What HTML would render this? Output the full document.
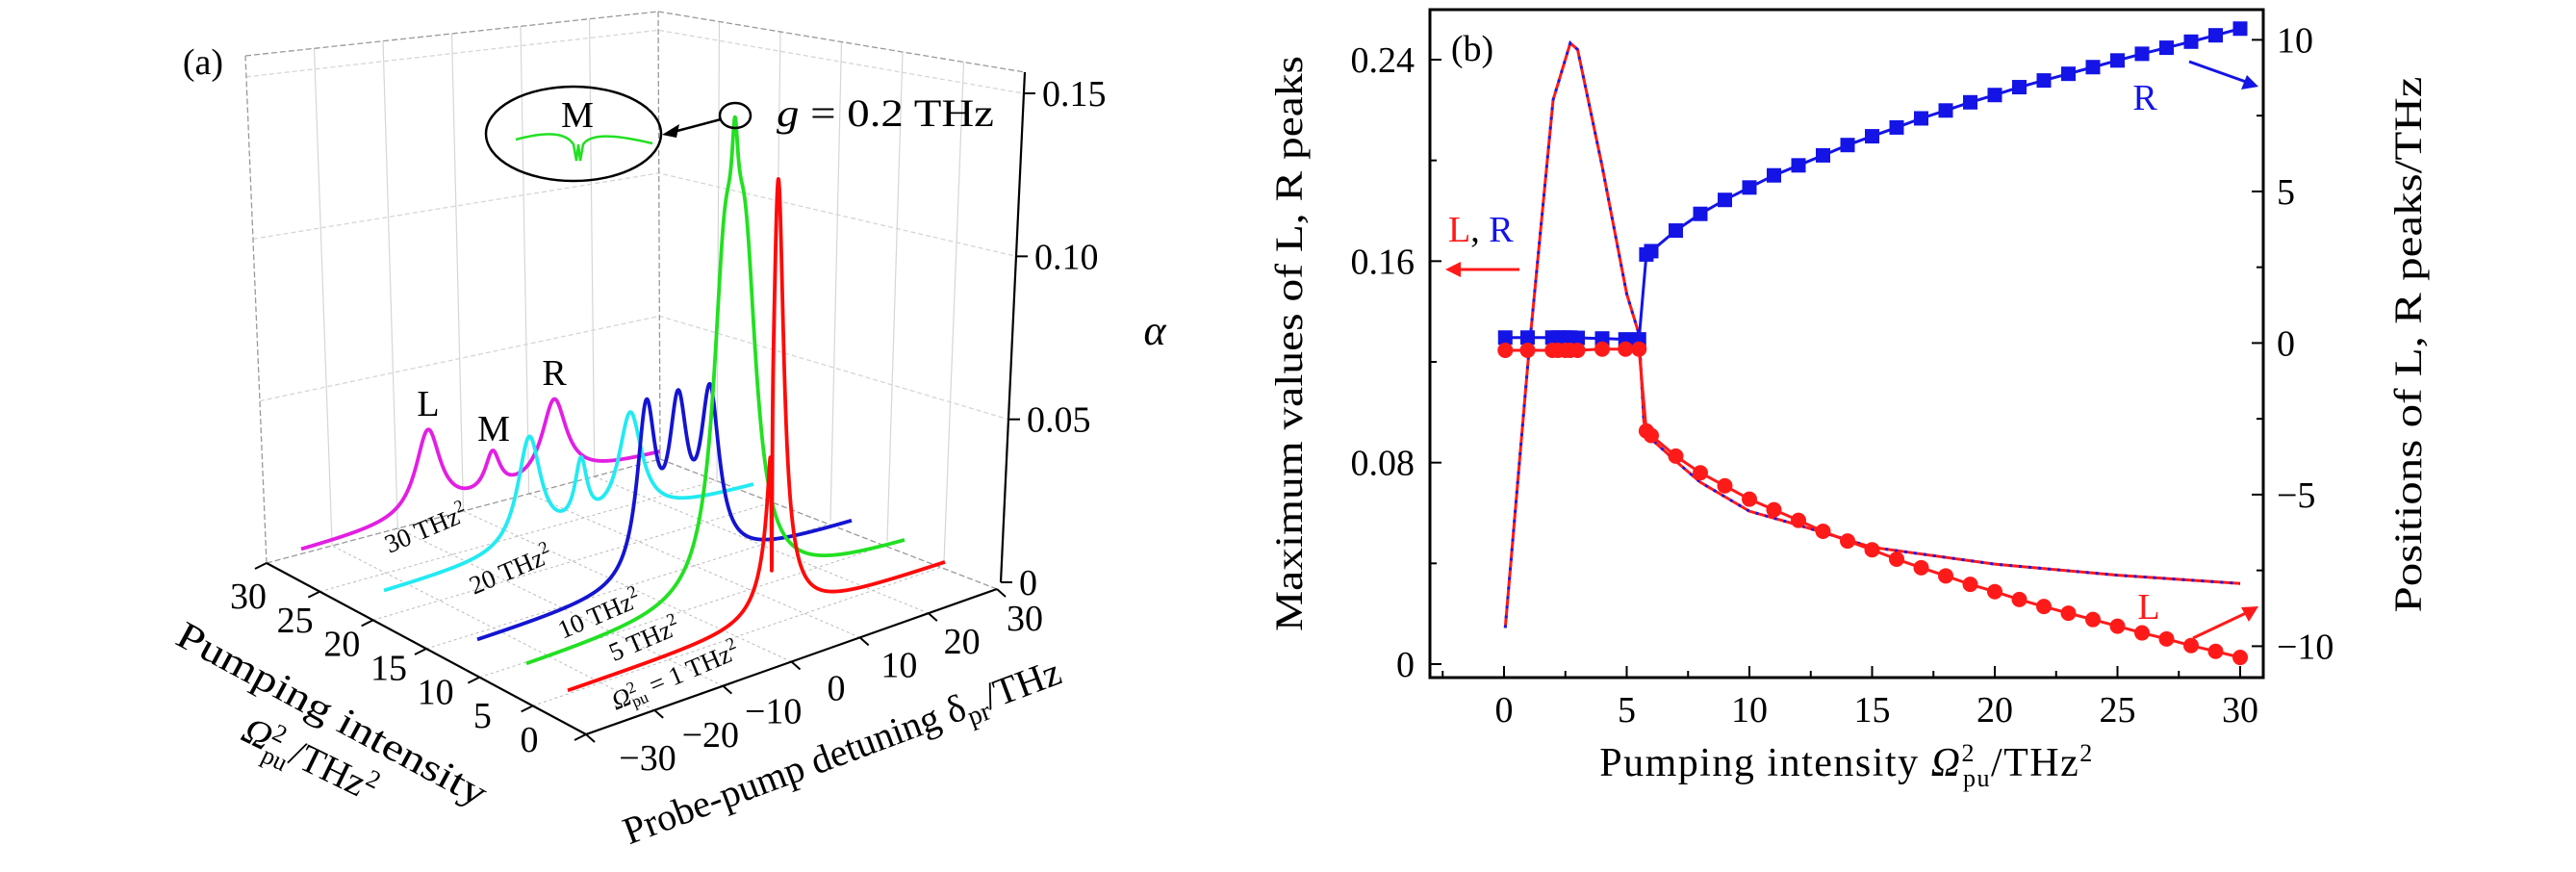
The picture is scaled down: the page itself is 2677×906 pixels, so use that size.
<!DOCTYPE html>
<html><head><meta charset="utf-8"><style>
html,body{margin:0;padding:0;background:#fff;}
svg{display:block;font-family:"Liberation Serif","DejaVu Serif",serif;}
</style></head><body>
<svg id="fig" width="2677" height="906" viewBox="0 0 2677 906" xmlns="http://www.w3.org/2000/svg">
<g id="pa"></g>
<g id="pb"></g>
</svg>
<script>
// ---------- Panel (a) data: Lorentzian peak parameters ----------
const curveNames = ["p30","p20","p10","p5","p1"];
const curvePump = [30,20,10,5,1];
const peakCenters = [[-8.8,2,12.3],[-6.4,2,10],[-2.9,2.2,7.3],[1.5,4.7,3.1],[3.5,3.7,2.45]];
const peakHeights = [[0.0267,0.0124,0.0255],[0.0348,0.0197,0.0333],[0.0524,0.0476,0.0509],[0.0909,0.0909,0.0327],[0.127,0.0121,-0.0548]];
const peakWidths = [[2.5,1.5,2.5],[2.3,1.2,2.3],[1.8,1.8,1.8],[2.2,2.2,0.6],[1.0,3.0,0.08]];
const zTicks = [0,0.05,0.10,0.15];
const pTicks = [0,5,10,15,20,25,30];
const dTicks = [-30,-20,-10,0,10,20,30];

// ---------- Panel (b) data ----------
const maxX = [0.05,1,2,2.7,3,4,5,5.5,5.7,6,7,8,10,12,15,20,25,30];
const maxY = [0.0144,0.1225,0.224,0.2466,0.244,0.1976,0.147,0.131,0.096,0.0894,0.0806,0.0722,0.0607,0.0552,0.0464,0.0397,0.0353,0.032];
const posX = [0.05,0.96,1.97,2.2,2.5,2.7,3.0,4,4.95,5.5,5.8,6,7,8,9,10,11,12,13,14,15,16,17,18,19,20,21,22,23,24,25,26,27,28,29,30];
const posR = [0.18,0.18,0.18,0.18,0.18,0.18,0.17,0.15,0.12,0.12,2.92,3.03,3.71,4.26,4.72,5.13,5.53,5.86,6.19,6.53,6.82,7.11,7.41,7.67,7.94,8.18,8.44,8.66,8.88,9.10,9.32,9.54,9.74,9.94,10.15,10.37];
const posL = [-0.24,-0.24,-0.24,-0.24,-0.24,-0.24,-0.24,-0.2,-0.2,-0.2,-2.9,-3.05,-3.73,-4.28,-4.71,-5.15,-5.5,-5.85,-6.21,-6.53,-6.82,-7.13,-7.41,-7.68,-7.96,-8.2,-8.46,-8.69,-8.91,-9.12,-9.34,-9.56,-9.76,-9.98,-10.17,-10.37];
const xTicksB = [0,5,10,15,20,25,30];
const yTicksL = [0,0.08,0.16,0.24];
const yTicksR = [-10,-5,0,5,10];

const NS="http://www.w3.org/2000/svg";
function mk(tag,attrs,parent){const e=document.createElementNS(NS,tag);for(const k in attrs)e.setAttribute(k,attrs[k]);parent.appendChild(e);return e;}
function txt(parent,x,y,s,size,anchor,extra){const t=mk("text",{x:x,y:y,"font-size":size,"text-anchor":anchor||"start",fill:"#000"},parent);if(extra)for(const k in extra)t.setAttribute(k,extra[k]);t.innerHTML=s;return t;}

// ================= PANEL A =================
const pa=document.getElementById("pa");
const Aw={x:609,y:763}, Bw={x:1036,y:612}, Cw={x:277,y:585}, Dw={x:686,y:477};
const topL={x:255,y:58}, topBack={x:684,y:12}, topR={x:1065,y:75}, baseR={x:1040,y:605};
function lerp(a,b,t){return {x:a.x+(b.x-a.x)*t,y:a.y+(b.y-a.y)*t};}
const gridColor="#d6d6d6";
[0.05,0.10,0.15].forEach(z=>{
  const l=lerp(Cw,topL,z/0.1565), bk=lerp(Dw,topBack,z/0.1565), fr=lerp(baseR,topR,z/0.1565);
  const g=mk("polyline",{points:`${l.x},${l.y} ${bk.x},${bk.y} ${fr.x},${fr.y}`,fill:"none",stroke:gridColor,"stroke-width":1.3,"stroke-dasharray":"5 3"},pa);
  
  
});
for(let i=1;i<6;i++){
  const t=i/6;
  const b1=lerp(Cw,Dw,t), t1=lerp(topL,topBack,t);
  const v1=mk("line",{x1:b1.x,y1:b1.y,x2:t1.x,y2:t1.y,stroke:gridColor,"stroke-width":1.2},pa);
  
  
  const b2=lerp(Dw,baseR,t), t2=lerp(topBack,topR,t);
  const v2=mk("line",{x1:b2.x,y1:b2.y,x2:t2.x,y2:t2.y,stroke:gridColor,"stroke-width":1.2},pa);
  
  
}
for(let i=1;i<6;i++){
  const t=i/6;
  const a=lerp(Aw,Cw,t), b=lerp(Bw,Dw,t);
  const f1=mk("line",{x1:a.x,y1:a.y,x2:b.x,y2:b.y,stroke:"#bbb","stroke-width":1,"stroke-dasharray":"3 3"},pa);
  
  
  const c=lerp(Aw,Bw,t), d=lerp(Cw,Dw,t);
  const f2=mk("line",{x1:c.x,y1:c.y,x2:d.x,y2:d.y,stroke:"#bbb","stroke-width":1,"stroke-dasharray":"3 3"},pa);
  
  
}
const edges=[[Cw,topL],[topL,topBack],[topBack,topR],[topBack,Dw],[Cw,Dw],[Dw,Bw]];
edges.forEach(e=>{
  const l=mk("line",{x1:e[0].x,y1:e[0].y,x2:e[1].x,y2:e[1].y,stroke:"#999","stroke-width":1.3,"stroke-dasharray":"6 3"},pa);
  
  
});
const axP=mk("line",{x1:Aw.x,y1:Aw.y,x2:Cw.x,y2:Cw.y,stroke:"#000","stroke-width":2.2},pa);


const axD=mk("line",{x1:Aw.x,y1:Aw.y,x2:Bw.x,y2:Bw.y,stroke:"#000","stroke-width":2.2},pa);


const axZ=mk("line",{x1:baseR.x,y1:baseR.y,x2:topR.x,y2:topR.y,stroke:"#000","stroke-width":2.2},pa);


zTicks.forEach((z,i)=>{
  const p=lerp(baseR,topR,z/0.1565);
  const tk=mk("line",{x1:p.x,y1:p.y,x2:p.x+12,y2:p.y,stroke:"#000","stroke-width":2},pa);
  
  
  const t=txt(pa,p.x+19,p.y+13,z===0?"0":z.toFixed(2),38,"start");
  
  
});
const al=txt(pa,1200,358,"α",44,"middle",{"font-style":"italic"});


pTicks.forEach(v=>{
  const p=lerp(Aw,Cw,v/30);
  const tk=mk("line",{x1:p.x,y1:p.y,x2:p.x-12,y2:p.y+6,stroke:"#000","stroke-width":2},pa);
  
  
  const lx=550+(258-550)*v/30, ly=767+(618-767)*v/30;
  const t=txt(pa,lx,ly+14,String(v),38,"middle");
  
  
});
dTicks.forEach(v=>{
  const p=lerp(Aw,Bw,(v+30)/60);
  const tk=mk("line",{x1:p.x,y1:p.y,x2:p.x+9,y2:p.y+8,stroke:"#000","stroke-width":2},pa);
  
  
  const f=(v+30)/60;
  const t=txt(pa,673+392*f,786-145*f+14,v<0?"−"+(-v):String(v),38,"middle");
  
  
});
const t1=txt(pa,345,755,"Pumping intensity",40,"middle",{transform:"rotate(28.3 345 742)",textLength:360,lengthAdjust:"spacingAndGlyphs"});


const t2=txt(pa,322,802,"<tspan font-style='italic'>Ω</tspan><tspan dy='-15' font-size='26'>2</tspan><tspan dx='-13' dy='26' font-size='26'>pu</tspan><tspan dy='-11'>/THz</tspan><tspan dy='-15' font-size='26'>2</tspan>",40,"middle",{transform:"rotate(26 322 789)"});


const t3=txt(pa,875,794,"Probe-pump detuning δ<tspan dy='9' font-size='28'>pr</tspan><tspan dy='-9'>/THz</tspan>",40,"middle",{transform:"rotate(-20.5 875 781)"});


const pl=txt(pa,211,77,"(a)",38,"middle");



const curveColors=["#e31ee3","#22eaf2","#1414d2","#22e022","#ff0a0a"];
const curveStart=[{x:313,y:572},{x:399,y:615},{x:496,y:666},{x:547,y:692},{x:590,y:718}];
const curveEnd=[{x:686,y:471},{x:783,y:505},{x:885,y:543},{x:940,y:565},{x:982,y:585}];
const K=3300;
function alphaAt(i,d){let s=0;for(let j=0;j<peakCenters[i].length;j++){const g=peakWidths[i][j];const dd=d-peakCenters[i][j];s+=peakHeights[i][j]*g*g/(g*g+dd*dd);}return s;}
for(let i=0;i<curveNames.length;i++){
  const pts=[];
  for(let d=-30;d<=30.0001;d+=0.02){
    const t=(d+30)/60;
    const x=curveStart[i].x+(curveEnd[i].x-curveStart[i].x)*t;
    const yb=curveStart[i].y+(curveEnd[i].y-curveStart[i].y)*t;
    pts.push(x.toFixed(2)+","+(yb-K*alphaAt(i,d)).toFixed(2));
  }
  const pl=mk("polyline",{points:pts.join(" "),fill:"none",stroke:curveColors[i],"stroke-width":3.8,"stroke-linejoin":"round"},pa);
  
  
}
const flabels=[["30 THz<tspan dy='-11' font-size='18'>2</tspan>",443,558],["20 THz<tspan dy='-11' font-size='18'>2</tspan>",531,601],["10 THz<tspan dy='-11' font-size='18'>2</tspan>",623,647],["5 THz<tspan dy='-11' font-size='18'>2</tspan>",670,673],["<tspan font-style='italic'>Ω</tspan><tspan dy='-10' font-size='17'>2</tspan><tspan dx='-9' dy='15' font-size='17'>pu</tspan><tspan dy='-5'> = 1 THz</tspan><tspan dy='-11' font-size='18'>2</tspan>",702,711]];
flabels.forEach(f=>{
  const t=txt(pa,f[1],f[2],f[0],27,"middle",{transform:`rotate(-23 ${f[1]} ${f[2]-8})`});
  
  
});
[["L",445,432],["M",513,458],["R",576,400]].forEach(l=>{
  const t=txt(pa,l[1],l[2],l[0],38,"middle");
  
  
});
const ell=mk("ellipse",{cx:596,cy:139,rx:91,ry:49,fill:"none",stroke:"#000","stroke-width":2.5},pa);


const im=txt(pa,600,132,"M",38,"middle");


const ic=mk("path",{d:"M536,145 C570,136 588,138 596,150 L599,167 L601,150 L603,167 L606,150 C614,138 640,140 678,149",fill:"none",stroke:"#22e022","stroke-width":2.5},pa);


const sc=mk("ellipse",{cx:764,cy:120,rx:16,ry:13,fill:"none",stroke:"#000","stroke-width":2.5},pa);


const ar=mk("line",{x1:749,y1:124,x2:700,y2:137,stroke:"#000","stroke-width":2.5},pa);


const ah=mk("polygon",{points:"688,140 706,129 703,143",fill:"#000"},pa);


const gt=txt(pa,807,131,"<tspan font-style='italic'>g</tspan> = 0.2  THz",40,"start",{"xml:space":"preserve",textLength:226,lengthAdjust:"spacingAndGlyphs"});



// ================= PANEL B =================
const pb=document.getElementById("pb");
const fx=v=>1563+v*25.5;
const fyL=v=>690-v*2616.7;
const fyR=v=>356.4-v*31.5;
const frame=mk("rect",{x:1486,y:10,width:866,height:694,fill:"none",stroke:"#000","stroke-width":3},pb);


for(let v=-2.5;v<=30;v+=2.5){
  const major=(v%5===0);
  const tk=mk("line",{x1:fx(v),y1:704,x2:fx(v),y2:704-(major?12:7),stroke:"#000","stroke-width":2},pb);
  
  
}
xTicksB.forEach(v=>{
  const t=txt(pb,fx(v),750,String(v),38,"middle");
  
  
});
for(let v=0;v<=0.2401;v+=0.04){
  const major=Math.abs(v/0.08-Math.round(v/0.08))<1e-6;
  const tk=mk("line",{x1:1486,y1:fyL(v),x2:1486+(major?12:7),y2:fyL(v),stroke:"#000","stroke-width":2},pb);
  
  
}
yTicksL.forEach(v=>{
  const t=txt(pb,1470,fyL(v)+13,v===0?"0":v.toFixed(2),38,"end");
  
  
});
for(let v=-10;v<=10;v+=2.5){
  const major=(v%5===0);
  const tk=mk("line",{x1:2352,y1:fyR(v),x2:2352-(major?12:7),y2:fyR(v),stroke:"#000","stroke-width":2},pb);
  
  
}
yTicksR.forEach(v=>{
  const t=txt(pb,2366,fyR(v)+13,v<0?"−"+(-v):String(v),38,"start");
  
  
});
const yl=txt(pb,1339,357,"Maximum values of L, R peaks",40,"middle",{transform:"rotate(-90 1339 357) translate(0 14)",textLength:598,lengthAdjust:"spacingAndGlyphs"});


const yr=txt(pb,2502,358,"Positions of L, R peaks/THz",40,"middle",{transform:"rotate(-90 2502 358) translate(0 14)",textLength:557,lengthAdjust:"spacingAndGlyphs"});


const xl=txt(pb,1919,806,"Pumping intensity <tspan font-style='italic'>Ω</tspan><tspan dy='-15' font-size='26'>2</tspan><tspan dx='-13' dy='26' font-size='26'>pu</tspan><tspan dy='-11'>/THz</tspan><tspan dy='-15' font-size='26'>2</tspan>",42,"middle",{"letter-spacing":"1.5"});


const bl=txt(pb,1530,63,"(b)",38,"middle");



const mpts=maxX.map((v,i)=>fx(v)+","+fyL(maxY[i])).join(" ");
const m1=mk("polyline",{points:mpts,fill:"none",stroke:"#ff1a1a","stroke-width":3},pb);


const m2=mk("polyline",{points:mpts,fill:"none",stroke:"#1a1ae6","stroke-width":3,"stroke-dasharray":"3 7"},pb);


const rline=mk("polyline",{points:posX.map((v,i)=>fx(v)+","+fyR(posR[i])).join(" "),fill:"none",stroke:"#1414e6","stroke-width":3},pb);


posX.forEach((v,i)=>{
  const s=mk("rect",{x:fx(v)-7.5,y:fyR(posR[i])-7.5,width:15,height:15,fill:"#1414e6"},pb);
  
  
});
const lline=mk("polyline",{points:posX.map((v,i)=>fx(v)+","+fyR(posL[i])).join(" "),fill:"none",stroke:"#ff1a1a","stroke-width":3},pb);


posX.forEach((v,i)=>{
  const c=mk("circle",{cx:fx(v),cy:fyR(posL[i]),r:8,fill:"#ff1a1a"},pb);
  
  
});
const lr=txt(pb,1505,251,"<tspan fill='#ff1a1a'>L</tspan>, <tspan fill='#1414e6'>R</tspan>",38,"start");


const a1=mk("line",{x1:1579,y1:280,x2:1515,y2:280,stroke:"#ff1a1a","stroke-width":3},pb);


const a1h=mk("polygon",{points:"1502,280 1518,272 1518,288",fill:"#ff1a1a"},pb);


const rt=txt(pb,2229,114,"R",38,"middle",{fill:"#1414e6"});


const a2=mk("line",{x1:2275,y1:64,x2:2334,y2:85,stroke:"#1414e6","stroke-width":3},pb);


const a2h=mk("polygon",{points:"2347,90 2329,93 2335,78",fill:"#1414e6"},pb);


const lt=txt(pb,2233,643,"L",38,"middle",{fill:"#ff1a1a"});


const a3=mk("line",{x1:2279,y1:663,x2:2334,y2:637,stroke:"#ff1a1a","stroke-width":3},pb);


const a3h=mk("polygon",{points:"2347,630 2337,646 2329,631",fill:"#ff1a1a"},pb);


</script>
</body></html>
